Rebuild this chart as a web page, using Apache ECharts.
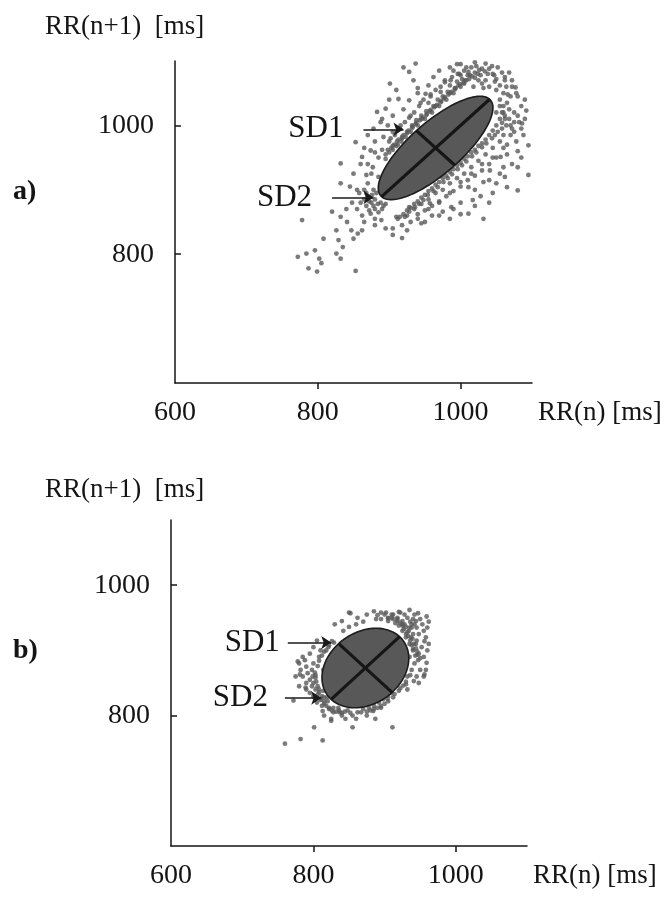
<!DOCTYPE html>
<html>
<head>
<meta charset="utf-8">
<script src="https://cdn.jsdelivr.net/npm/echarts@6/dist/echarts.min.js"></script>
<style>
  html, body { margin: 0; padding: 0; background: #ffffff; }
  #chart { width: 666px; height: 897px; }
</style>
</head>
<body>
<div id="chart"></div>
<script>
// Poincaré plots of successive RR intervals, panels a) and b)
const xTickValues = [600, 800, 1000];
const yTickValues = [800, 1000];

// panel a): successive RR pairs [RR(n), RR(n+1)] in ms
const pointsA = [
  [920,1090],[937,1096],[928,1083],[934,1070],[901,1065],[1035,1096],[1011,1083],[996,1080],[1047,1078],[1062,1070],
  [1077,1059],[978,1067],[1005,1065],[913,1041],[895,1026],[883,1021],[928,1039],[951,1049],[1092,1023],[1086,1003],
  [1095,969],[1080,935],[1095,923],[1065,904],[1080,899],[1056,951],[1041,930],[1032,912],[1011,904],[1017,884],
  [987,873],[1032,855],[1011,863],[975,866],[957,879],[928,873],[853,974],[862,951],[832,941],[832,910],
  [868,923],[877,935],[892,982],[874,961],
  [778,853],[820,866],[832,858],[841,850],[847,837],[856,832],[862,837],[826,837],[808,824],[829,822],
  [850,824],[772,796],[784,801],[796,806],[802,793],[805,786],[799,773],[787,778],[826,801],[832,793],
  [835,811],[853,774],[874,863],[889,853],[910,858],[925,837],
  [885,950],[890,962],[895,948],[900,975],[905,962],[908,985],[912,970],[915,995],[918,980],[922,1005],
  [925,990],[928,1012],[932,1000],[935,1020],[938,1008],[942,1030],[945,1015],[948,1040],[952,1022],[955,1035],
  [958,1048],[962,1030],[965,1055],[968,1040],[972,1060],[975,1045],[978,1070],[982,1052],[985,1062],[988,1075],
  [992,1058],[995,1068],[998,1080],[1002,1072],[1005,1085],[1010,1078],[1015,1090],[1020,1082],[1025,1070],[1030,1088],
  [905,990],[898,1000],[920,1025],[940,1050],[880,975],[870,940],[875,925],[885,920],
  [905,840],[912,855],[918,845],[925,860],[930,850],[935,870],[940,862],[945,878],[950,868],[955,885],
  [960,875],[965,895],[970,882],[975,900],[980,890],[985,910],[990,898],[995,918],[1000,905],[1005,925],
  [1010,915],[1015,935],[1020,922],[1025,945],[1030,930],[1035,955],[1040,940],[1045,965],[1050,950],[1055,975],
  [1060,985],[1065,970],[1048,985],[1058,995],[1070,1000],[1075,990],[1000,880],[990,870],[1020,900],[1040,915],
  [1060,935],[970,860],[950,850],[1065,955],[1080,960],
  [1040,1060],[1050,1055],[1055,1040],[1060,1050],[1035,1070],[1048,1068],[1065,1035],[1070,1045],[1055,1062],[1062,1075],
  [1045,1080],[1030,1065],
  [875,880],[880,870],[870,890],[878,900],[868,875],[860,880],[885,865],[865,900],[890,870],[872,868],
  [880,855],[862,860],[855,870],[895,878],[870,910],[858,895],
  [940,1058],[955,1062],[962,1075],[970,1085],[985,1090],[1000,1095],[1020,1098],[1028,1078],[1040,1088],[1052,1090],
  [1068,1082],[1072,1060],[1080,1045],[1085,1030],[1075,1020],[1090,1040],[1082,1005],[1070,985],[1088,985],[1078,975],
  [1068,1010],[1060,1020],
  [1085,950],[1072,940],[1062,920],[1050,910],[1045,895],[1028,890],[1020,875],[1000,862],[985,855],[960,860],
  [945,848],[1040,880],[1055,925],
  [900,1040],[910,1055],[888,1005],[878,995],[870,985],[865,965],[880,958],[890,1010],[905,1015],[860,940],
  [850,925],[845,905],[855,900],[848,880],[840,870],[865,850],[880,845],[895,840],[905,830],[918,825],
  [895,955],[900,958],[903,965],[907,970],[910,968],[913,978],[917,975],[920,985],[923,982],[927,992],
  [930,990],[933,998],[937,1002],[940,1000],[943,1008],[947,1012],[950,1010],[953,1018],[957,1022],[960,1020],
  [963,1028],[967,1032],[970,1030],[973,1038],[977,1042],[980,1040],[983,1048],[987,1052],[990,1050],[993,1058],
  [997,1062],[1000,1060],[1004,1066],[1008,1070],[1012,1072],[1016,1076],[1020,1074],[1024,1080],
  [915,858],[920,862],[925,868],[930,872],[935,878],[940,882],[945,888],[950,892],[955,898],[960,902],
  [965,908],[970,912],[975,918],[980,922],[985,928],[990,932],[995,938],[1000,942],[1005,948],[1010,952],
  [1015,958],[1020,962],[1025,968],[1030,972],[1035,978],[1040,985],[1045,992],[1050,1000],[1055,1010],[1058,1020],
  [1060,1030],
  [880,885],[876,892],[884,878],[892,875],[872,882],[878,875],[888,880],[868,895],[882,895],[865,885],
  [990,1085],[995,1095],[1008,1090],[1018,1060],[1022,1092],[1032,1058],[1038,1080],[1044,1092],[1050,1072],[1058,1082],
  [1064,1060],[1072,1070],[1078,1050],[1066,1048],
  [1050,1020],[1055,1030],[1062,1010],[1068,1025],[1075,1005],[1080,1015],[1085,995],[1072,995],[1064,1000],[1090,1010],
  [898,962],[905,968],[911,975],[918,982],[925,988],[932,996],[938,1004],[945,1010],[952,1016],[958,1024],
  [965,1030],[972,1036],[978,1044],[985,1050],[992,1056],[999,1064],[1006,1070],[1013,1078],[1026,1086],[1034,1084],
  [922,858],[928,866],[936,873],[942,878],[948,884],[954,892],[962,898],[968,904],[976,912],[982,918],
  [988,924],[996,932],[1002,938],[1008,944],[1016,952],[1022,958],[1030,966],[1036,972],[1044,980],[1052,990],
  [1058,1004],[1062,1015],
  [902,980],[916,1000],[930,1015],[944,1035],[958,1045],[972,1052],[986,1070],[1000,1078],
  [940,855],[955,870],[970,880],[985,895],[1000,912],[1015,925],[1030,940],[1045,950],[1060,965]
];

// panel b): successive RR pairs [RR(n), RR(n+1)] in ms
const pointsB = [
  [760,757],[782,764],[813,762],[801,782],[825,792],[855,782],[911,782],[887,795],[852,957],[890,954],
  [905,949],[920,959],[935,962],[947,957],[959,952],[962,944],[956,914],[956,863],[959,881],[950,888],
  [941,853],[932,840],[778,883],[781,863],[789,843],[801,828],[772,823],[813,807],[837,805],[867,805],
  [884,807],
  [925,945],[932,950],[938,940],[942,955],[945,935],[950,948],[948,925],[955,930],[940,925],[935,935],
  [928,955],[918,948],[912,955],[905,945],[930,920],[945,915],[952,905],[958,920],[960,935],[935,910],
  [925,930],[940,900],[948,895],[955,890],[942,880],[950,870],[938,870],[945,860],[932,860],[935,890],
  [928,940],[920,938],[915,942],[910,950],[900,955],[895,948],[922,958],[944,945],[953,940],[940,948],
  [800,830],[805,820],[812,815],[815,828],[822,810],[828,805],[835,812],[840,800],[848,808],[855,800],
  [862,805],[870,810],[878,812],[885,815],[892,820],[820,822],[808,840],[798,845],[795,855],[792,865],
  [790,875],[788,885],[795,895],[800,905],[805,915],[810,900],[798,870],[785,860],[782,870],[790,840],
  [815,800],[825,795],[845,795],[860,795],[898,825],[905,830],[910,835],[895,812],[900,818],[875,800],
  [780,880],[785,890],[790,850],[795,835],[780,845],[775,860],[800,880],[803,862],
  [850,958],[862,950],[875,955],[885,960],[840,945],[830,940],[895,958],
  [948,850],[955,860],[960,900],[962,910],[958,870],
  [930,925],[927,933],[933,922],[925,938],[936,915],[938,908],[940,902],[922,942],[918,945],[912,948],
  [905,950],[934,930],[930,936],[939,918],[944,910],[946,898],[943,892],[947,885],[942,940],[936,944],
  [815,822],[812,830],[818,815],[822,812],[808,836],[806,845],[804,852],[826,808],[832,806],[840,804],
  [810,826],[803,858],[802,866],[819,828],[814,838],
  [818,900],[812,892],[808,884],[822,908],[826,914],[806,876],[814,870],
  [875,806],[885,810],[895,815],[905,822],[912,828],[920,838],[926,846],[930,852],[936,862],
  [870,944],[860,940],[850,936],[842,930],[888,948],
  [925,940],[918,950],[910,955],[902,958],[932,928],[937,920],[941,910],[944,903],[946,893],[938,935],
  [815,818],[810,824],[806,832],[803,840],[828,812],[836,808],[844,806],[852,804],[800,850],[799,860],
  [808,890],[815,898],[821,905],[829,912],[904,826],[914,833],[922,842],[930,848],[880,808],[890,812]
];

// fitted ellipses: centre RR(n), centre RR(n+1), half-length along the identity line (SD2), half-width across it (SD1)
const ellipseA = [965, 965, 107, 38];
const ellipseB = [873, 873, 68, 53];

// arrow annotations: label, tail RR(n), head RR(n), RR(n+1) level, label gap
const arrowsA = [['SD1', 864, 920, 994, 20], ['SD2', 820, 878, 888, 20]];
const arrowsB = [['SD1', 764, 825, 912, 8], ['SD2', 760, 811, 827, 17]];

const FONT = '"Liberation Serif", "Times New Roman", serif';
const INK = '#141414';
const plain = (v) => String(v);

function xAxisFor(gridIndex) {
  return {
    gridIndex, type: 'value', min: 600, max: 1100, interval: 200,
    name: 'RR(n) [ms]', nameLocation: 'end', nameGap: 6,
    nameTextStyle: { fontFamily: FONT, fontSize: 27, color: INK, verticalAlign: 'top', padding: [16, 0, 0, 0] },
    axisLine: { show: true, onZero: false, lineStyle: { color: INK, width: 1.5 } },
    axisTick: { show: true, inside: false, length: 6, customValues: [800, 1000], lineStyle: { color: INK, width: 1.5 } },
    axisLabel: { customValues: xTickValues, formatter: plain, fontFamily: FONT, fontSize: 28, color: INK, margin: 16 },
    splitLine: { show: false }
  };
}
function yAxisFor(gridIndex) {
  return {
    gridIndex, type: 'value', min: 600, max: 1100, interval: 200,
    axisLine: { show: true, onZero: false, lineStyle: { color: INK, width: 1.5 } },
    axisTick: { show: true, inside: true, length: 6, customValues: yTickValues, lineStyle: { color: INK, width: 1.5 } },
    axisLabel: { customValues: yTickValues, formatter: plain, fontFamily: FONT, fontSize: 28, color: INK, margin: 21 },
    splitLine: { show: false }
  };
}

function renderEllipse(params, api) {
  const cx = api.value(0), cy = api.value(1), a = api.value(2), b = api.value(3);
  const r = Math.SQRT1_2;
  // (u, v): position along / across the identity line
  const at = (u, v) => api.coord([cx + r * (u - v), cy + r * (u + v)]);
  const outline = [];
  for (let i = 0; i < 120; i++) {
    const t = (i / 120) * Math.PI * 2;
    outline.push(at(a * Math.cos(t), b * Math.sin(t)));
  }
  const m1 = at(-a, 0), m2 = at(a, 0), n1 = at(0, b), n2 = at(0, -b);
  return {
    type: 'group',
    children: [
      { type: 'polygon', shape: { points: outline }, style: { fill: '#585858', stroke: '#1c1c1c', lineWidth: 1.6 } },
      { type: 'line', shape: { x1: m1[0], y1: m1[1], x2: m2[0], y2: m2[1] }, style: { stroke: '#161616', lineWidth: 3.2 } },
      { type: 'line', shape: { x1: n1[0], y1: n1[1], x2: n2[0], y2: n2[1] }, style: { stroke: '#161616', lineWidth: 3.2 } }
    ]
  };
}

function arrowLines(list) {
  return list.map(([label, x0, x1, y, gap]) => [
    { coord: [x0, y], name: label, label: { distance: gap } },
    { coord: [x1, y] }
  ]);
}

function panelSeries(i, points, ellipse, arrows) {
  return [
    {
      type: 'scatter', xAxisIndex: i, yAxisIndex: i, data: points,
      symbol: 'circle', symbolSize: 4.8,
      itemStyle: { color: '#5a5a5a' },
      silent: true, z: 2
    },
    {
      type: 'custom', xAxisIndex: i, yAxisIndex: i, data: [ellipse],
      encode: { x: 0, y: 1 }, renderItem: renderEllipse, clip: false, silent: true, z: 3
    },
    {
      type: 'scatter', xAxisIndex: i, yAxisIndex: i, data: [], silent: true, z: 4,
      markLine: {
        silent: true, animation: false,
        symbol: ['none', 'arrow'], symbolSize: 10,
        lineStyle: { color: '#1a1a1a', width: 1.6, type: 'solid' },
        label: { show: true, position: 'start', formatter: '{b}', fontFamily: FONT, fontSize: 31, color: INK },
        emphasis: { disabled: true },
        data: arrowLines(arrows)
      }
    }
  ];
}

const chart = echarts.init(document.getElementById('chart'), null, { renderer: 'canvas' });
chart.setOption({
  animation: false,
  backgroundColor: '#ffffff',
  grid: [
    { left: 175, top: 61, width: 357, height: 322, outerBoundsMode: 'none' },
    { left: 171, top: 520, width: 356, height: 326, outerBoundsMode: 'none' }
  ],
  xAxis: [xAxisFor(0), xAxisFor(1)],
  yAxis: [yAxisFor(0), yAxisFor(1)],
  series: [
    ...panelSeries(0, pointsA, ellipseA, arrowsA),
    ...panelSeries(1, pointsB, ellipseB, arrowsB)
  ],
  graphic: [
    { type: 'text', x: 45, y: 27, style: { text: 'RR(n+1)  [ms]', font: '27px ' + FONT, fill: INK, textAlign: 'left', textVerticalAlign: 'middle' } },
    { type: 'text', x: 45, y: 490, style: { text: 'RR(n+1)  [ms]', font: '27px ' + FONT, fill: INK, textAlign: 'left', textVerticalAlign: 'middle' } },
    { type: 'text', x: 13, y: 192, style: { text: 'a)', font: 'bold 28px ' + FONT, fill: INK, textAlign: 'left', textVerticalAlign: 'middle' } },
    { type: 'text', x: 13, y: 651, style: { text: 'b)', font: 'bold 28px ' + FONT, fill: INK, textAlign: 'left', textVerticalAlign: 'middle' } }
  ]
});
</script>
</body>
</html>
